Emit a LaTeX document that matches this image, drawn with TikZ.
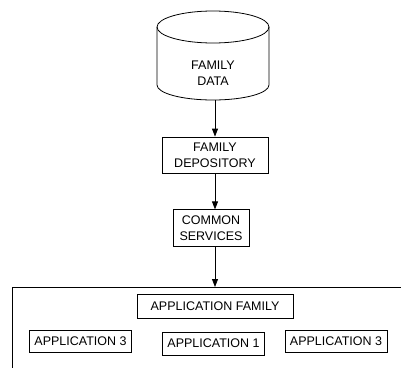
\documentclass[tikz,border=0pt]{standalone}
\usepackage{fontspec}
\setmainfont{Liberation Sans}
\usepackage{tikz}
\usetikzlibrary{positioning,arrows.meta}

\begin{document}
\begin{tikzpicture}[x=1pt, y=1pt, node distance=36pt, line width=0.8pt]
  \tikzstyle{block} = [rectangle, draw=black, fill=white, align=center, inner sep=2pt, font=\fontsize{12.5}{16}\selectfont]
  \tikzstyle{app} = [block, minimum width=102pt, minimum height=22pt]
  \tikzstyle{flow} = [-{Triangle[length=8pt, width=6pt]}]

  \useasboundingbox (0,0) rectangle (401,368);

  % family data store
  \draw (157,341) -- (157,283) arc (180:360:56 and 15) -- (269,341);
  \draw (213,341) ellipse (56 and 16);
  \node [align=center, font=\fontsize{12.5}{16}\selectfont] (data) at (213,295) {FAMILY\\DATA};
  \coordinate (databot) at (215,268);

  \node [block, minimum width=106pt, minimum height=36pt] (depot) at (215,213) {FAMILY\\DEPOSITORY};
  \node [block, minimum width=76pt, minimum height=37pt, below=36pt of depot, xshift=-4pt] (services) {COMMON\\SERVICES};

  % application area
  \draw (401,81) -- (12,81) -- (12,0);
  \coordinate (areatop) at (215,81);
  \node [block, minimum width=156pt, minimum height=24pt] (family) at (215,62) {APPLICATION FAMILY};
  \node [app] (appA) at (80.5,27) {APPLICATION 3};
  \node [app, minimum height=23pt] (appB) at (213.5,24.5) {APPLICATION 1};
  \node [app] (appC) at (336,27) {APPLICATION 3};

  \draw [flow] (databot) -- (databot |- depot.north);
  \draw [flow] (depot.south) -- (depot.south |- services.north);
  \draw [flow] (depot.south |- services.south) -- (areatop);
\end{tikzpicture}
\end{document}
